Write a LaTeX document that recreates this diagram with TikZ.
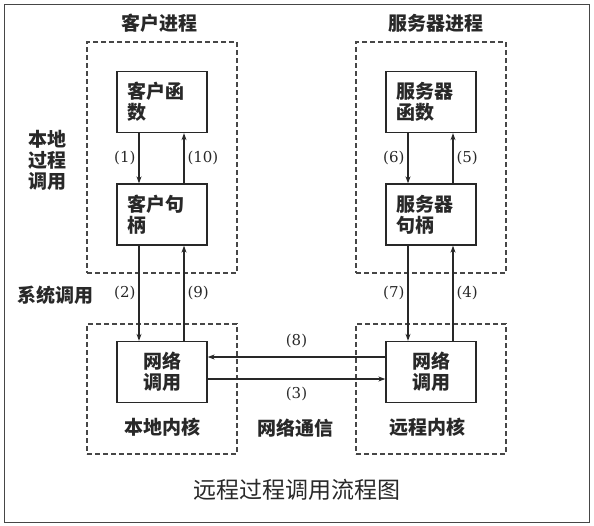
\documentclass[tikz,border=0pt]{standalone}
\usepackage{fontspec}
\usepackage{xcolor}
\usepackage{tikz}
\usetikzlibrary{positioning,arrows.meta}
\newfontfamily\cjk{Noto Sans CJK SC}
\newfontfamily\numfont{DejaVu Serif}
\definecolor{ink}{RGB}{40,40,40}
\definecolor{frame}{RGB}{70,70,70}

\begin{document}
\begin{tikzpicture}[x=1pt,y=-1pt,
  every node/.style={font=\cjk\bfseries\fontsize{19}{21}\selectfont,text=ink},
  proc/.style={draw=frame,line width=1.2pt,dash pattern=on 5pt off 3pt,minimum width=150pt,minimum height=231pt,inner sep=0pt},
  kern/.style={proc,minimum height=130pt},
  box/.style={draw=ink,line width=1.3pt,minimum width=90pt,minimum height=61pt,text width=70pt,inner xsep=10pt,align=left},
  num/.style={font=\numfont\fontsize{15}{17}\selectfont,inner sep=3pt},
  arr/.style={draw=ink,line width=1.1pt,-{Stealth[length=7pt,width=5pt]}},
  caption/.style={font=\cjk\fontsize{23}{26}\selectfont}]
  \useasboundingbox (0,0) rectangle (594,525);
  \draw[frame,line width=1pt] (4,4) rectangle (589,522);
  % dashed process / kernel areas
  \node[proc] (cproc) at (162,157.5) {};
  \node[proc] (sproc) at (431,157.5) {};
  \node[kern] (ckern) at (162,389) {};
  \node[kern] (skern) at (431,389) {};
  \node (ctitle) at (159,23) {客户进程};
  \node (stitle) at (436,23) {服务器进程};
  % boxes
  \node[box] (cfun) at (162,102) {客户函\\数};
  \node[box] (cstub) at (162,214.5) {客户句\\柄};
  \node[box] (sfun) at (431,102) {服务器\\函数};
  \node[box] (sstub) at (431,214.5) {服务器\\句柄};
  \node[box,align=center] (cnet) at (162,372) {网络\\调用};
  \node[box,align=center] (snet) at (431,372) {网络\\调用};
  % side labels
  \node[align=left] (local) at (47,160) {本地\\过程\\调用};
  \node (syscall) at (55,295) {系统调用};
  \node (ckname) at (162,427) {本地内核};
  \node (skname) at (427,427) {远程内核};
  \node (netcom) at (295,428) {网络通信};
  \node[caption] (cap) at (297,490) {远程过程调用流程图};
  % calls
  \draw[arr] ([xshift=-23pt]cfun.south) -- node[num,left] {(1)} ([xshift=-23pt]cstub.north);
  \draw[arr] ([xshift=-23pt]cstub.south) -- node[num,left] {(2)} ([xshift=-23pt]cnet.north);
  \draw[arr] ([yshift=-7pt]cnet.east) -- node[num,below=5pt] {(3)} ([yshift=-7pt]snet.west);
  \draw[arr] ([xshift=22pt]snet.north) -- node[num,right] {(4)} ([xshift=22pt]sstub.south);
  \draw[arr] ([xshift=22pt]sstub.north) -- node[num,right] {(5)} ([xshift=22pt]sfun.south);
  \draw[arr] ([xshift=-23pt]sfun.south) -- node[num,left] {(6)} ([xshift=-23pt]sstub.north);
  \draw[arr] ([xshift=-23pt]sstub.south) -- node[num,left] {(7)} ([xshift=-23pt]snet.north);
  \draw[arr] ([yshift=15pt]snet.west) -- node[num,above=6pt] {(8)} ([yshift=15pt]cnet.east);
  \draw[arr] ([xshift=22pt]cnet.north) -- node[num,right] {(9)} ([xshift=22pt]cstub.south);
  \draw[arr] ([xshift=22pt]cstub.north) -- node[num,right] {(10)} ([xshift=22pt]cfun.south);
\end{tikzpicture}
\end{document}
